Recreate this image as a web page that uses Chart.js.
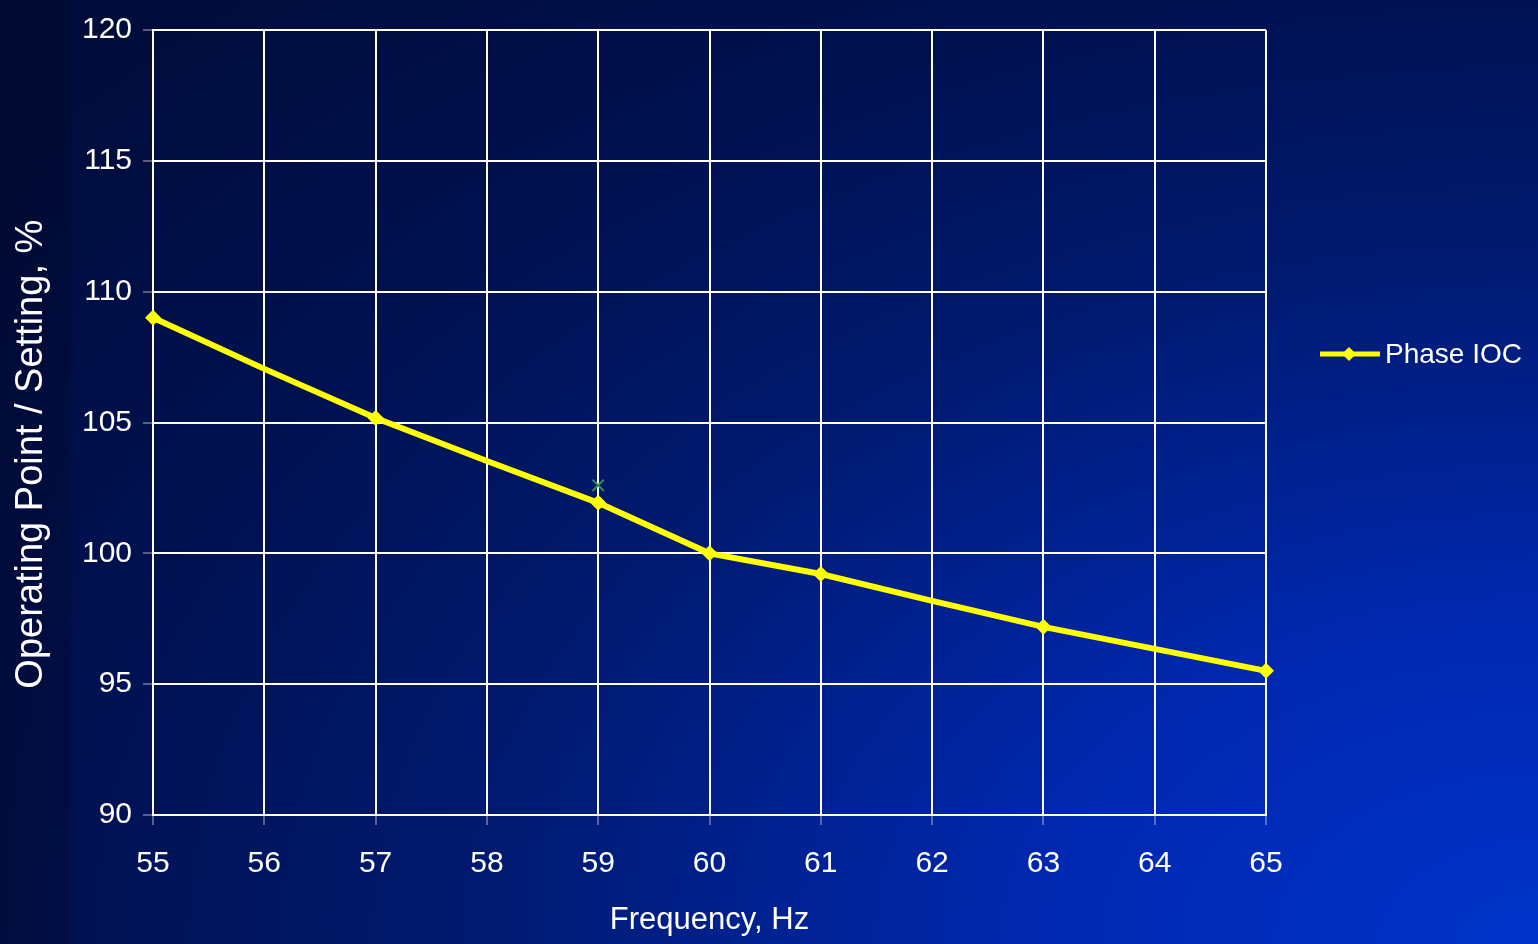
<!DOCTYPE html>
<html>
<head>
<meta charset="utf-8">
<script src="https://cdn.jsdelivr.net/npm/chart.js@4"></script>
<style>
  html, body { margin: 0; padding: 0; }
  body {
    width: 1538px; height: 944px; overflow: hidden;
    background:
      linear-gradient(to right, rgba(0,4,30,0.35) 0px, rgba(0,4,30,0.25) 70px, rgba(0,4,30,0) 72px),
      radial-gradient(2000px 1300px at 100% 100%, #0034ca 0%, #0028b0 25%, #001a70 53%, #001150 75%, #000c3a 100%);
  }
  #wrap { position: relative; width: 1538px; height: 944px; }
</style>
</head>
<body>
<div id="wrap"><canvas id="myChart" width="1538" height="944"></canvas></div>
<script>
// frequency categories, Hz
const freqLabels = ["55", "56", "57", "58", "59", "60", "61", "62", "63", "64", "65"];
// Phase IOC operating point / setting, %
const phaseIOC = [109.0, 107.05, 105.17, 103.53, 101.93, 100.0, 99.21, 98.18, 97.19, 96.35, 95.51];
// markers only shown where a measurement was taken
const measured = [true, false, true, false, true, true, true, false, true, false, true];
// the lone green point at 59 Hz
const extraPoint = [null, null, null, null, 102.6, null, null, null, null, null, null];

const YELLOW = "#ffff00";
const fontName = "'Liberation Sans', Arial, Helvetica, sans-serif";

// legend drawn on the right, like the original
const legendPlugin = {
  id: "sideLegend",
  afterDraw(chart) {
    const ctx = chart.ctx;
    const y = 354;
    ctx.save();
    ctx.strokeStyle = YELLOW;
    ctx.lineWidth = 5;
    ctx.beginPath();
    ctx.moveTo(1320, y);
    ctx.lineTo(1380, y);
    ctx.stroke();
    ctx.fillStyle = YELLOW;
    ctx.beginPath();
    ctx.moveTo(1349, y - 7);
    ctx.lineTo(1356, y);
    ctx.lineTo(1349, y + 7);
    ctx.lineTo(1342, y);
    ctx.closePath();
    ctx.fill();
    ctx.fillStyle = "#ffffff";
    ctx.font = "28px " + fontName;
    ctx.textBaseline = "middle";
    ctx.fillText("Phase IOC", 1385, y + 1);
    ctx.restore();
  }
};

const data = {
  labels: freqLabels,
  datasets: [
    {
      label: "Phase IOC",
      data: phaseIOC,
      borderColor: YELLOW,
      backgroundColor: YELLOW,
      borderWidth: 6,
      pointStyle: "rectRot",
      pointRadius: measured.map(m => m ? 8 : 0),
      pointBorderWidth: 0,
      tension: 0
    },
    {
      label: "extra",
      data: extraPoint,
      showLine: false,
      pointStyle: "crossRot",
      pointRadius: 8,
      pointBorderWidth: 2,
      borderColor: "#2f8f5f",
      backgroundColor: "#2f8f5f"
    }
  ]
};

const config = {
  type: "line",
  data: data,
  options: {
    responsive: false,
    animation: false,
    layout: { padding: { left: 0, right: 272, top: 30, bottom: 0 } },
    plugins: {
      legend: { display: false },
      tooltip: { enabled: false }
    },
    scales: {
      x: {
        offset: false,
        grid: { color: "#ffffff", lineWidth: 2, tickColor: "#b0b0c0", tickWidth: 1, tickLength: 10 },
        border: { color: "#ffffff", width: 2 },
        ticks: { color: "#ffffff", font: { family: fontName, size: 30 }, padding: 21, maxRotation: 0 },
        title: { display: true, text: "Frequency, Hz", color: "#ffffff", font: { family: fontName, size: 31 }, padding: { top: 0, bottom: 5 } },
        afterFit(scale) { scale.height = 129; }
      },
      y: {
        min: 90,
        max: 120,
        ticks: { stepSize: 5, color: "#ffffff", font: { family: fontName, size: 30 }, padding: 11 },
        grid: { color: "#ffffff", lineWidth: 2, tickColor: "#b0b0c0", tickWidth: 1, tickLength: 10 },
        border: { color: "#ffffff", width: 2 },
        title: { display: true, text: "Operating Point / Setting, %      ", color: "#ffffff", font: { family: fontName, size: 38 }, padding: { top: 9, bottom: 0 } },
        afterFit(scale) { scale.width = 153; }
      }
    }
  },
  plugins: [legendPlugin]
};

const myChart = new Chart(document.getElementById("myChart"), config);
</script>
</body>
</html>
